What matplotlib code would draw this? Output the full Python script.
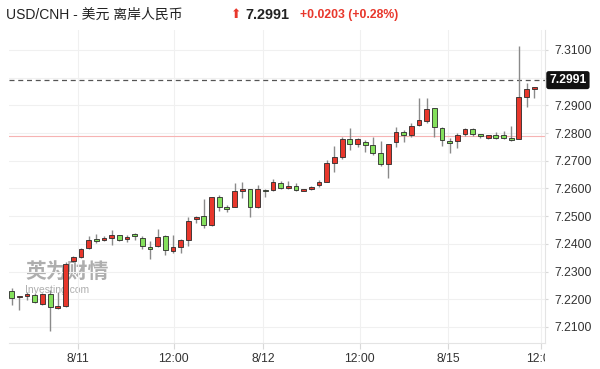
import matplotlib
matplotlib.use('Agg')
import matplotlib.pyplot as plt
import numpy as np
from matplotlib.transforms import Bbox, TransformedBbox, blended_transform_factory

plt.rcParams['font.family'] = ['Liberation Sans', 'Noto Sans CJK SC', 'DejaVu Sans']

# hourly candles
opens = [7.2231, 7.2207, 7.2211, 7.2216, 7.2184, 7.2219, 7.2168, 7.2177, 7.2338, 7.2352,
         7.2386, 7.2416, 7.2413, 7.2422, 7.2431, 7.2417, 7.2435, 7.2421, 7.2388, 7.2392,
         7.2429, 7.2374, 7.2388, 7.2413, 7.2489, 7.2500, 7.2468, 7.2568, 7.2534, 7.2534,
         7.2589, 7.2597, 7.2532, 7.2596, 7.2595, 7.2621, 7.2602, 7.2609, 7.2591, 7.2598,
         7.2613, 7.2625, 7.2693, 7.2715, 7.2779, 7.2760, 7.2767, 7.2757, 7.2727, 7.2690,
         7.2767, 7.2803, 7.2793, 7.2829, 7.2845, 7.2890, 7.2820, 7.2771, 7.2773, 7.2796,
         7.2814, 7.2796, 7.2783, 7.2792, 7.2792, 7.2783, 7.2778, 7.2929, 7.2958]
highs = [7.2242, 7.2213, 7.2227, 7.2222, 7.2222, 7.2233, 7.2225, 7.2333, 7.2356, 7.2386,
         7.2430, 7.2434, 7.2428, 7.2450, 7.2433, 7.2433, 7.2438, 7.2428, 7.2412, 7.2453,
         7.2432, 7.2432, 7.2417, 7.2498, 7.2501, 7.2561, 7.2570, 7.2578, 7.2539, 7.2619,
         7.2624, 7.2599, 7.2614, 7.2599, 7.2633, 7.2627, 7.2627, 7.2621, 7.2598, 7.2609,
         7.2632, 7.2703, 7.2753, 7.2786, 7.2817, 7.2781, 7.2775, 7.2787, 7.2773, 7.2760,
         7.2822, 7.2811, 7.2835, 7.2928, 7.2926, 7.2892, 7.2823, 7.2783, 7.2799, 7.2820,
         7.2820, 7.2798, 7.2792, 7.2805, 7.2809, 7.2826, 7.3114, 7.2982, 7.2968]
lows = [7.2179, 7.2161, 7.2197, 7.2186, 7.2179, 7.2086, 7.2164, 7.2173, 7.2334, 7.2348,
        7.2382, 7.2402, 7.2409, 7.2396, 7.2412, 7.2407, 7.2413, 7.2383, 7.2344, 7.2390,
        7.2360, 7.2368, 7.2368, 7.2392, 7.2474, 7.2456, 7.2466, 7.2520, 7.2516, 7.2532,
        7.2567, 7.2498, 7.2530, 7.2568, 7.2589, 7.2598, 7.2597, 7.2591, 7.2589, 7.2596,
        7.2605, 7.2622, 7.2658, 7.2707, 7.2739, 7.2750, 7.2733, 7.2721, 7.2681, 7.2639,
        7.2751, 7.2769, 7.2787, 7.2827, 7.2835, 7.2787, 7.2755, 7.2727, 7.2745, 7.2791,
        7.2791, 7.2783, 7.2780, 7.2778, 7.2778, 7.2771, 7.2778, 7.2895, 7.2926]
closes = [7.2206, 7.2213, 7.2219, 7.2189, 7.2219, 7.2172, 7.2177, 7.2327, 7.2352, 7.2382,
          7.2414, 7.2409, 7.2422, 7.2431, 7.2413, 7.2426, 7.2429, 7.2392, 7.2381, 7.2426,
          7.2376, 7.2388, 7.2413, 7.2484, 7.2498, 7.2467, 7.2568, 7.2534, 7.2526, 7.2590,
          7.2597, 7.2534, 7.2597, 7.2589, 7.2625, 7.2603, 7.2609, 7.2595, 7.2598, 7.2605,
          7.2622, 7.2691, 7.2715, 7.2779, 7.2761, 7.2778, 7.2757, 7.2729, 7.2688, 7.2760,
          7.2805, 7.2794, 7.2827, 7.2848, 7.2887, 7.2823, 7.2775, 7.2763, 7.2793, 7.2814,
          7.2798, 7.2788, 7.2792, 7.2783, 7.2783, 7.2775, 7.2929, 7.2958, 7.2965]

last_price = 7.2991
prev_close = 7.2790
change = '+0.0203 (+0.28%)'

x_tick_pos = [8.63, 21.1, 32.7, 45.3, 56.8, 68.9]
x_tick_labels = ['8/11', '12:00', '8/12', '12:00', '8/15', '12:00']
y_ticks = [7.21, 7.22, 7.23, 7.24, 7.25, 7.26, 7.27, 7.28, 7.29, 7.30, 7.31]

fig = plt.figure(figsize=(6.0, 3.69), dpi=100)
ax = fig.add_axes([8.5 / 600, 26 / 369, (545 - 8.5) / 600, 313 / 369])

o = np.array(opens)
c = np.array(closes)
h = np.array(highs)
l = np.array(lows)
idx = np.arange(len(o))
up = c >= o
colors = np.where(up, '#e8372c', '#84e05c')
bottoms = np.minimum(o, c)
heights = np.maximum(np.abs(c - o), 0.0004)

ax.vlines(idx, l, h, color='#8a8a8a', lw=1.0, zorder=2)
ax.bar(idx, heights, bottom=bottoms, width=0.62, color=colors,
       edgecolor='#2a2a2a', linewidth=0.6, zorder=3)

ax.axhline(prev_close, color='#f6b3b3', lw=0.8, zorder=1)
ax.axhline(last_price, color='#555555', lw=0.9, ls=(0, (4, 3)), zorder=1)

# watermark
ax.text(0.031, 0.227, '英为财情', transform=ax.transAxes, fontsize=15, fontweight='bold',
        color='#9a9a9a', alpha=0.8, va='center', ha='left', zorder=0.5,
        family=['Noto Sans CJK SC', 'DejaVu Sans'])
ax.text(0.031, 0.17, 'Investing.com', transform=ax.transAxes, fontsize=7.5,
        color='#9a9a9a', alpha=0.8, va='center', ha='left', zorder=0.5)

ax.set_xlim(-0.42, 69.4)
ax.set_ylim(7.2042, 7.3172)

ax.yaxis.tick_right()
ax.set_yticks(y_ticks)
# the 7.3000 label sits under the last-price box
ax.set_yticklabels(['' if abs(v - 7.30) < 1e-6 else f'{v:.4f}' for v in y_ticks])
ax.set_xticks(x_tick_pos)
ax.set_xticklabels(x_tick_labels)
ax.tick_params(axis='both', labelsize=8.7, labelcolor='#333333', color='#d8d8d8', length=4)
ax.tick_params(axis='y', pad=5, length=2)
ax.grid(True, color='#f0f0f0', lw=0.8, zorder=0)
ax.set_axisbelow(True)
for s in ['top', 'left']:
    ax.spines[s].set_visible(False)
for s in ['right', 'bottom']:
    ax.spines[s].set_color('#e4e4e4')

# last x label is cut by the price axis
clip = TransformedBbox(Bbox([[-1, -1], [1, 1]]), ax.transAxes)
lbl = ax.get_xticklabels()[-1]
lbl.set_clip_on(True)
lbl.set_clip_box(clip)

trans = blended_transform_factory(ax.transAxes, ax.transData)
ax.text(1.008, last_price, f'{last_price:.4f}', transform=trans, fontsize=8.7,
        color='white', fontweight='bold', va='center', ha='left', clip_on=False,
        bbox=dict(boxstyle='round,pad=0.25,rounding_size=0.2', fc='#111111', ec='none'))

# header
fig.text(6 / 600, 1 - 15 / 369, 'USD/CNH - 美元 离岸人民币', fontsize=10, color='#222222',
         va='center', ha='left')
fig.text(231 / 600, 1 - 15 / 369, '⬆', fontsize=9, color='#e8372c', va='center', ha='left',
         family=['DejaVu Sans'])
fig.text(245 / 600, 1 - 15 / 369, f'{last_price:.4f}', fontsize=10.4, fontweight='bold',
         color='#222222', va='center', ha='left')
fig.text(300 / 600, 1 - 15 / 369, change, fontsize=8.8, fontweight='bold',
         color='#e8372c', va='center', ha='left')

fig.savefig('out.png', dpi=100)
